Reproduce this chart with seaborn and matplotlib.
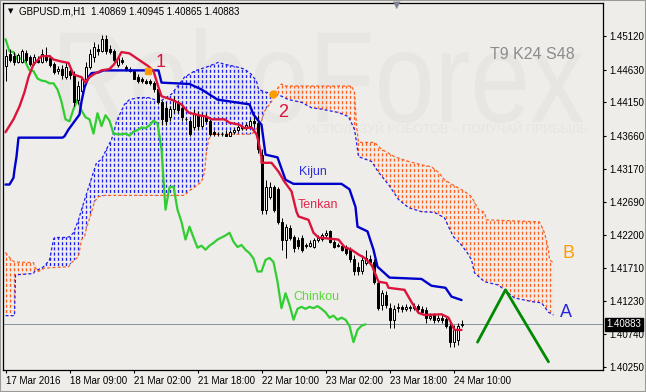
import numpy as np
import seaborn as sns
import matplotlib.pyplot as plt
from matplotlib.patches import Polygon, Rectangle, PathPatch
from matplotlib.textpath import TextPath
from matplotlib.font_manager import FontProperties
from matplotlib.transforms import Affine2D, IdentityTransform

# GBPUSD.m H1 candles (bar index 0 = 17 Mar 2016)
opens = [1.4468, 1.4486, 1.4483, 1.4475, 1.4475, 1.4487, 1.4481, 1.4473, 1.4478, 1.4475,
         1.4483, 1.4480, 1.4471, 1.4461, 1.4464, 1.4452, 1.4461, 1.4456, 1.4418, 1.4431,
         1.4449, 1.4467, 1.4481, 1.4493, 1.4490, 1.4508, 1.4493, 1.4490, 1.4470, 1.4477,
         1.4467, 1.4464, 1.4461, 1.4452, 1.4449, 1.4447, 1.4446, 1.4444, 1.4434, 1.4416,
         1.4407, 1.4393, 1.4405, 1.4416, 1.4407, 1.4391, 1.4387, 1.4378, 1.4397, 1.4380,
         1.4394, 1.4387, 1.4371, 1.4369, 1.4368, 1.4369, 1.4366, 1.4372, 1.4374, 1.4378,
         1.4377, 1.4380, 1.4388, 1.4385, 1.4338, 1.4257, 1.4276, 1.4291, 1.4287, 1.4239,
         1.4213, 1.4230, 1.4217, 1.4213, 1.4216, 1.4205, 1.4204, 1.4202, 1.4213, 1.4214,
         1.4219, 1.4225, 1.4210, 1.4204, 1.4204, 1.4202, 1.4198, 1.4185, 1.4173, 1.4166,
         1.4179, 1.4185, 1.4180, 1.4149, 1.4117, 1.4131, 1.4112, 1.4095, 1.4112, 1.4114,
         1.4111, 1.4114, 1.4112, 1.4115, 1.4111, 1.4109, 1.4098, 1.4102, 1.4095, 1.4098,
         1.4096, 1.4086, 1.4062, 1.4065, 1.4087]
highs = [1.4493, 1.4493, 1.4489, 1.4487, 1.4493, 1.4492, 1.4484, 1.4486, 1.4483, 1.4493,
         1.4496, 1.4484, 1.4474, 1.4468, 1.4470, 1.4474, 1.4467, 1.4461, 1.4446, 1.4453,
         1.4475, 1.4493, 1.4504, 1.4501, 1.4514, 1.4514, 1.4499, 1.4493, 1.4483, 1.4481,
         1.4470, 1.4467, 1.4464, 1.4456, 1.4452, 1.4450, 1.4449, 1.4447, 1.4437, 1.4419,
         1.4415, 1.4410, 1.4424, 1.4419, 1.4413, 1.4394, 1.4390, 1.4405, 1.4402, 1.4400,
         1.4399, 1.4390, 1.4374, 1.4372, 1.4372, 1.4374, 1.4375, 1.4377, 1.4381, 1.4381,
         1.4385, 1.4391, 1.4396, 1.4396, 1.4346, 1.4301, 1.4298, 1.4294, 1.4291, 1.4245,
         1.4236, 1.4235, 1.4220, 1.4217, 1.4219, 1.4208, 1.4213, 1.4216, 1.4220, 1.4223,
         1.4227, 1.4227, 1.4213, 1.4208, 1.4207, 1.4205, 1.4202, 1.4191, 1.4180, 1.4191,
         1.4198, 1.4191, 1.4185, 1.4154, 1.4139, 1.4137, 1.4120, 1.4117, 1.4120, 1.4117,
         1.4118, 1.4117, 1.4120, 1.4118, 1.4115, 1.4114, 1.4105, 1.4105, 1.4102, 1.4103,
         1.4101, 1.4092, 1.4087, 1.4090, 1.4095]
lows = [1.4446, 1.4475, 1.4470, 1.4473, 1.4473, 1.4475, 1.4468, 1.4470, 1.4473, 1.4473,
        1.4474, 1.4467, 1.4456, 1.4456, 1.4450, 1.4449, 1.4449, 1.4410, 1.4413, 1.4422,
        1.4446, 1.4464, 1.4475, 1.4484, 1.4489, 1.4486, 1.4486, 1.4475, 1.4467, 1.4471,
        1.4461, 1.4459, 1.4449, 1.4444, 1.4443, 1.4442, 1.4440, 1.4430, 1.4412, 1.4382,
        1.4381, 1.4387, 1.4400, 1.4400, 1.4387, 1.4388, 1.4366, 1.4375, 1.4375, 1.4377,
        1.4384, 1.4366, 1.4366, 1.4365, 1.4366, 1.4365, 1.4365, 1.4369, 1.4371, 1.4374,
        1.4375, 1.4378, 1.4378, 1.4341, 1.4251, 1.4251, 1.4272, 1.4254, 1.4236, 1.4198,
        1.4186, 1.4213, 1.4195, 1.4199, 1.4195, 1.4201, 1.4202, 1.4201, 1.4210, 1.4211,
        1.4216, 1.4208, 1.4201, 1.4202, 1.4196, 1.4191, 1.4180, 1.4161, 1.4161, 1.4163,
        1.4176, 1.4176, 1.4148, 1.4109, 1.4109, 1.4112, 1.4083, 1.4083, 1.4106, 1.4106,
        1.4108, 1.4108, 1.4109, 1.4106, 1.4103, 1.4090, 1.4095, 1.4090, 1.4092, 1.4090,
        1.4083, 1.4055, 1.4055, 1.4058, 1.4084]
closes = [1.4483, 1.4478, 1.4474, 1.4484, 1.4490, 1.4478, 1.4471, 1.4481, 1.4475, 1.4486,
          1.4478, 1.4470, 1.4459, 1.4464, 1.4455, 1.4467, 1.4455, 1.4416, 1.4439, 1.4449,
          1.4467, 1.4486, 1.4496, 1.4490, 1.4508, 1.4490, 1.4489, 1.4478, 1.4480, 1.4474,
          1.4462, 1.4461, 1.4450, 1.4447, 1.4446, 1.4443, 1.4443, 1.4434, 1.4416, 1.4390,
          1.4387, 1.4405, 1.4419, 1.4403, 1.4393, 1.4390, 1.4369, 1.4399, 1.4380, 1.4396,
          1.4388, 1.4369, 1.4368, 1.4368, 1.4369, 1.4366, 1.4372, 1.4374, 1.4378, 1.4377,
          1.4381, 1.4388, 1.4384, 1.4346, 1.4257, 1.4290, 1.4291, 1.4257, 1.4239, 1.4213,
          1.4232, 1.4216, 1.4201, 1.4204, 1.4198, 1.4204, 1.4208, 1.4213, 1.4216, 1.4219,
          1.4223, 1.4210, 1.4202, 1.4205, 1.4198, 1.4193, 1.4185, 1.4166, 1.4166, 1.4183,
          1.4186, 1.4180, 1.4151, 1.4112, 1.4134, 1.4117, 1.4095, 1.4111, 1.4114, 1.4111,
          1.4114, 1.4112, 1.4115, 1.4111, 1.4106, 1.4098, 1.4101, 1.4095, 1.4098, 1.4095,
          1.4086, 1.4062, 1.4080, 1.4086, 1.40883]

# Ichimoku lines (bar index, price)
tenkan_x = [0, 2, 3.5, 4.75, 5.75, 7, 8, 9, 11, 12, 14, 15.75, 17, 19, 20, 21, 22, 24, 26, 27,
            28, 29, 31, 32, 34, 35.75, 37, 38.25, 39, 41.5, 44, 45.75, 48.25, 50.25, 51.5,
            54.75, 56, 58.5, 59.75, 61.5, 62.75, 63.25, 64, 64, 66.5, 68.25, 69.75, 70.75,
            71.5, 72.75, 73.25, 75.75, 77, 78.25, 83.25, 84.75, 86.5, 88.25, 89.75, 91.5,
            93.25, 95.25, 95.75, 99.75, 101.5, 103.25, 104.75, 109, 110.75, 112.25, 114]
tenkan_y = [1.4371, 1.4390, 1.4409, 1.4430, 1.4452, 1.4471, 1.4477, 1.4483, 1.4483, 1.4478,
            1.4475, 1.4473, 1.4456, 1.4452, 1.4444, 1.4452, 1.4456, 1.4462, 1.4464, 1.4470,
            1.4478, 1.4489, 1.4487, 1.4483, 1.4475, 1.4468, 1.4461, 1.4437, 1.4424, 1.4419,
            1.4412, 1.4400, 1.4396, 1.4394, 1.4390, 1.4390, 1.4385, 1.4382, 1.4377, 1.4378,
            1.4368, 1.4357, 1.4334, 1.4326, 1.4326, 1.4313, 1.4298, 1.4290, 1.4284, 1.4254,
            1.4247, 1.4242, 1.4223, 1.4216, 1.4213, 1.4202, 1.4198, 1.4191, 1.4186, 1.4176,
            1.4151, 1.4149, 1.4142, 1.4139, 1.4121, 1.4105, 1.4102, 1.4103, 1.4098, 1.4080,
            1.4080]
kijun_x = [0, 1, 2, 2.25, 2.75, 3.25, 14.25, 14.75, 15.75, 17.25, 18.5, 19, 19.75, 20.75,
           21.5, 23.25, 24.5, 38.25, 39, 46, 49, 53, 61, 62, 64, 65, 68, 70, 72, 84, 86, 87.5,
           88, 90.5, 92, 93, 96, 104, 106.5, 110, 111.5, 114]
kijun_y = [1.4294, 1.4294, 1.4304, 1.4316, 1.4335, 1.4363, 1.4363, 1.4365, 1.4375, 1.4387,
           1.4397, 1.4416, 1.4437, 1.4452, 1.4458, 1.4459, 1.4462, 1.4462, 1.4444, 1.4442,
           1.4434, 1.4419, 1.4412, 1.4397, 1.4382, 1.4338, 1.4334, 1.4301, 1.4295, 1.4295,
           1.4287, 1.4261, 1.4232, 1.4225, 1.4198, 1.4173, 1.4157, 1.4155, 1.4145, 1.4142,
           1.4129, 1.4124]
span_a_x = [0, 2.25, 2.5, 7, 7.25, 8.25, 9, 9.75, 11, 12, 12.25, 14.75, 16, 17, 18.25, 19,
            21, 22.75, 24, 25.25, 26.5, 27.25, 27.75, 29.75, 31, 33.25, 35.75, 37.25, 38.25,
            41.5, 44.75, 47.25, 50.75, 53.25, 54.75, 57.25, 59.75, 61.5, 62.75, 63.25, 65,
            67, 69, 70.75, 74, 76.5, 79, 83.25, 85.75, 87.25, 87.75, 88.25, 91.5, 93.25,
            95.75, 98.25, 100.75, 104, 107.25, 109.75, 110.75, 112, 114, 115.75, 116.5,
            117.25, 119.75, 123.25, 124.75, 127.25, 129.75, 132.25, 134, 135.75, 137]
span_a_y = [1.4101, 1.4101, 1.4161, 1.4163, 1.4166, 1.4169, 1.4171, 1.4174, 1.4183, 1.4213,
            1.4216, 1.4216, 1.4217, 1.4223, 1.4242, 1.4257, 1.4294, 1.4326, 1.4331, 1.4346,
            1.4360, 1.4375, 1.4387, 1.4412, 1.4419, 1.4422, 1.4422, 1.4419, 1.4415, 1.4427,
            1.4452, 1.4461, 1.4468, 1.4474, 1.4471, 1.4468, 1.4464, 1.4456, 1.4446, 1.4434,
            1.4430, 1.4428, 1.4424, 1.4419, 1.4415, 1.4407, 1.4405, 1.4400, 1.4394, 1.4375,
            1.4356, 1.4335, 1.4328, 1.4312, 1.4294, 1.4272, 1.4260, 1.4254, 1.4253, 1.4245,
            1.4232, 1.4217, 1.4205, 1.4191, 1.4183, 1.4164, 1.4151, 1.4146, 1.4139, 1.4127,
            1.4124, 1.4121, 1.4120, 1.4106, 1.4102]
span_b_x = [0, 1.5, 2.25, 7, 7.25, 8.25, 9.75, 15.75, 16.5, 18.25, 19, 19.75, 20.25, 21.5,
            22.25, 23.25, 24.75, 44.75, 45.75, 47.25, 49, 49.75, 50.25, 50.75, 51.5, 61.5,
            62.25, 64, 64.75, 66.5, 67.75, 69, 69.75, 86.5, 87.25, 87.75, 88.25, 92.25, 94,
            97.25, 100.75, 104, 106.5, 108.25, 109.75, 112.25, 114.75, 116.5, 118.25,
            119.75, 120.25, 133.5, 134.75, 135.75, 136, 137]
span_b_y = [1.4194, 1.4183, 1.4180, 1.4179, 1.4173, 1.4166, 1.4171, 1.4173, 1.4179, 1.4188,
            1.4213, 1.4217, 1.4230, 1.4253, 1.4269, 1.4276, 1.4278, 1.4278, 1.4284, 1.4290,
            1.4298, 1.4312, 1.4341, 1.4360, 1.4368, 1.4368, 1.4372, 1.4387, 1.4402, 1.4416,
            1.4434, 1.4442, 1.4439, 1.4439, 1.4430, 1.4380, 1.4356, 1.4356, 1.4346, 1.4335,
            1.4328, 1.4323, 1.4320, 1.4312, 1.4301, 1.4292, 1.4284, 1.4276, 1.4257, 1.4253,
            1.4242, 1.4239, 1.4223, 1.4198, 1.4183, 1.4179]
cloud_twists = [8.5, 67.5]  # span A above span B between these bars

# drawn objects
zigzag_x = [118, 125, 135.75]
zigzag_y = [1.4062, 1.4139, 1.4033]
signal_x = [35.5, 66.75]
signal_y = [1.4461, 1.4427]

tick_bars = [0, 16, 32, 48, 64, 80, 96, 112]
x_labels = ['17 Mar 2016', '18 Mar 09:00', '21 Mar 02:00', '21 Mar 18:00',
            '22 Mar 10:00', '23 Mar 02:00', '23 Mar 18:00', '24 Mar 10:00']
y_ticks = [1.45120, 1.44630, 1.44150, 1.43660, 1.43170, 1.42690,
           1.42200, 1.41710, 1.41230, 1.40740, 1.40250]
title = 'GBPUSD.m,H1  1.40869 1.40945 1.40865 1.40883'

BG = '#EEEDE9'
BLUE = '#1E1EF0'
ORANGE = '#FF6020'
CRIMSON = '#DC143C'

sns.set_theme(style='ticks')
plt.rcParams['font.family'] = ['Liberation Sans', 'DejaVu Sans']
plt.rcParams['lines.scale_dashes'] = False
dash = (0, (2.16, 1.6))
px = 0.72  # one pixel in points at 100 dpi

fig = plt.figure(figsize=(6.46, 3.92), dpi=100, facecolor=BG)
# plot area: 600 x 367 px, 4 px per bar
ax = fig.add_axes([3 / 646, 22 / 392, 600 / 646, 367 / 392])
ax.set_facecolor(BG)
ymin, ymax = 1.40210, 1.45612
ax.set_xlim(-0.625, 149.375)
ax.set_ylim(ymin, ymax)

# watermark
fp = FontProperties(family='Liberation Sans')
tp = TextPath((0, 0), 'RoboForex', size=100, prop=fp)
bb = tp.get_extents()
tr = Affine2D().translate(-bb.x0, -bb.y0).scale(523 / bb.width, 95 / bb.height).translate(60, 269)
ax.add_patch(PathPatch(tr.transform_path(tp), facecolor='#E7E6E2', edgecolor='none',
                       transform=IdentityTransform(), zorder=0))
ax.text(145.5, 1.4374, 'ИСПОЛЬЗУЙ РОБОТОВ – ПОЛУЧАЙ ПРИБЫЛЬ', ha='right', va='center',
        fontsize=9, color='#E6E5E1', zorder=0.5)

# kumo hatching, clipped to the cloud outline
cloud = Polygon(np.column_stack([np.r_[span_a_x, span_b_x[::-1]],
                                 np.r_[span_a_y, span_b_y[::-1]]]),
                closed=True, transform=ax.transData)
cloud_bars = np.arange(int(max(span_a_x)) + 1)
blue_part = (cloud_bars > cloud_twists[0]) & (cloud_bars < cloud_twists[1])
for mask, col in [(blue_part, BLUE), (~blue_part, ORANGE)]:
    vl = ax.vlines(cloud_bars[mask], ymin, ymax, colors=col, linewidth=0.95,
                   linestyles=dash, zorder=1)
    vl.set_clip_path(cloud)
ax.plot(span_a_x, span_a_y, color=BLUE, lw=0.9, ls=dash, zorder=1.5)
ax.plot(span_b_x, span_b_y, color=ORANGE, lw=0.9, ls=dash, zorder=1.5)

# price line
ax.axhline(closes[-1], color='#8A94A0', lw=px, zorder=1.6)

# candles
bars = np.arange(len(closes))
o, h, l, c = map(np.array, (opens, highs, lows, closes))
bull = c >= o
ax.vlines(bars, l, h, color='black', linewidth=px, zorder=3)
ax.bar(bars, c - o, bottom=o, width=0.5, color=np.where(bull, 'white', 'black'),
       edgecolor='black', linewidth=px, zorder=4)

# indicator lines
shift = 24
sns.lineplot(x=bars[:-shift], y=c[shift:], color='#32CD32', lw=1.6, ax=ax, zorder=2)
sns.lineplot(x=kijun_x, y=kijun_y, sort=False, estimator=None, color='#0000CD', lw=1.7, ax=ax, zorder=5)
sns.lineplot(x=tenkan_x, y=tenkan_y, sort=False, estimator=None, color=CRIMSON, lw=1.7, ax=ax, zorder=6)
sns.lineplot(x=zigzag_x, y=zigzag_y, sort=False, estimator=None, color='#008A00', lw=2.0, ax=ax, zorder=6)
ax.plot(signal_x[:1], signal_y[:1], marker='s', ms=4.5, color='#FF9C00', ls='none', zorder=7)
ax.plot(signal_x[1:], signal_y[1:], marker='o', ms=5, color='#FF9C00', ls='none', zorder=7)

# labels
ax.text(38.75, 1.4474, '1', color=CRIMSON, fontsize=13, ha='center', va='center', zorder=8)
ax.text(69.5, 1.4400, '2', color=CRIMSON, fontsize=13, ha='center', va='center', zorder=8)
ax.text(76.75, 1.4312, 'Kijun', color='#3030D8', fontsize=9, ha='center', va='center', zorder=8)
ax.text(78, 1.4264, 'Tenkan', color='#E0284C', fontsize=9, ha='center', va='center', zorder=8)
ax.text(77.75, 1.4129, 'Chinkou', color='#5CD83C', fontsize=9, ha='center', va='center', zorder=8)
ax.text(140.75, 1.4192, 'B', color='#FF9C00', fontsize=13, ha='center', va='center', zorder=8)
ax.text(140, 1.4106, 'A', color='#2828D8', fontsize=13, ha='center', va='center', zorder=8)
ax.text(131.75, 1.4486, 'T9 K24 S48', color='#8C8C8C', fontsize=11.5, ha='center', va='center', zorder=8)

# axes
ax.set_xticks(tick_bars)
ax.set_xticklabels(x_labels, ha='left')
ax.yaxis.tick_right()
ax.set_yticks(y_ticks)
ax.set_yticklabels([f'{v:.5f}' for v in y_ticks])
ax.tick_params(axis='both', length=2.5, width=0.8, color='black', labelsize=7,
               labelcolor='black', direction='out', pad=2)
ax.set_xlabel('')
ax.set_ylabel('')
for s in ax.spines.values():
    s.set_visible(True)
    s.set_color('black')
    s.set_linewidth(0.9)

ax.annotate(f'{closes[-1]:.5f}', xy=(1, closes[-1]), xycoords=('axes fraction', 'data'),
            xytext=(2.5, 0), textcoords='offset points', ha='left', va='center',
            fontsize=7, color='white',
            bbox=dict(boxstyle='square,pad=0.15', fc='black', ec='black'),
            annotation_clip=False, zorder=10)

fig.text(19 / 646, 1 - 12 / 392, title, fontsize=7, va='center', color='black')
fig.text(11 / 646, 1 - 11.5 / 392, '▼', fontsize=5, va='center', ha='center',
         color='black', family=['DejaVu Sans'])
fig.text(397 / 646, 1 - 5 / 392, '▼', fontsize=7, va='center', ha='center',
         color='#7C8490', family=['DejaVu Sans'])
fig.add_artist(Rectangle((0, 0), 1, 1, transform=fig.transFigure, fill=False,
                         edgecolor='#9A9A9A', linewidth=1.5))

fig.savefig('out.png', dpi=100, facecolor=BG)
